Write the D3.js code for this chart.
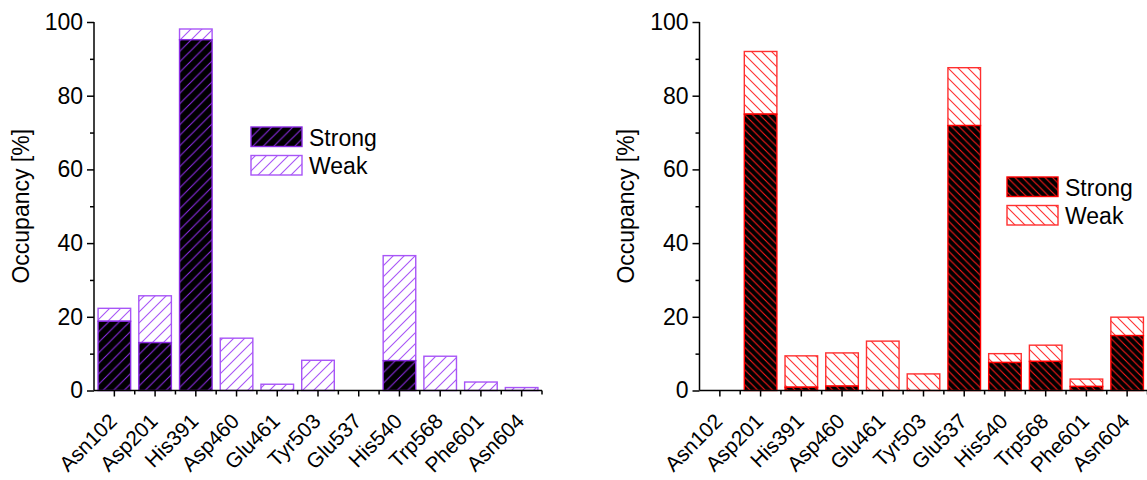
<!DOCTYPE html>
<html><head><meta charset="utf-8">
<script src="https://cdn.jsdelivr.net/npm/d3@7"></script>
<style>body{margin:0;background:#fff}svg{display:block}text{font-family:Arial,"Liberation Sans",sans-serif;fill:#000}</style>
</head><body><svg id="c" width="1147" height="480"></svg>
<script>
const residues = ["Asn102","Asp201","His391","Asp460","Glu461","Tyr503","Glu537","His540","Trp568","Phe601","Asn604"];
const strongLeft = [18.8, 13.0, 95.2, 0, 0, 0, 0, 8.1, 0, 0, 0];
const weakLeft   = [3.5, 12.7, 2.9, 14.2, 1.7, 8.2, 0, 28.5, 9.3, 2.3, 0.8];
const strongRight = [0, 75.0, 0.9, 1.2, 0, 0, 71.9, 7.6, 7.9, 1.1, 14.9];
const weakRight   = [0, 17.0, 8.5, 9.0, 13.4, 4.5, 15.7, 2.4, 4.4, 2.0, 5.0];
const yTicks = [0, 20, 40, 60, 80, 100];
const yMinorTicks = [10, 30, 50, 70, 90];
const seriesNames = ["Strong", "Weak"];

const svg = d3.select("#c");
const defs = svg.append("defs");
function hatch(id, bg, color, size, dir, w) {
  const p = defs.append("pattern").attr("id", id).attr("patternUnits", "userSpaceOnUse")
    .attr("width", size).attr("height", size);
  p.append("rect").attr("width", size).attr("height", size).attr("fill", bg);
  const s = size;
  const d = dir === "/" ? `M0,${s} L${s},0 M${-s/2},${s/2} L${s/2},${-s/2} M${s/2},${s*1.5} L${s*1.5},${s/2}`
                        : `M0,0 L${s},${s} M${-s/2},${s/2} L${s/2},${s*1.5} M${s/2},${-s/2} L${s*1.5},${s/2}`;
  p.append("path").attr("d", d).attr("stroke", color).attr("stroke-width", w).attr("fill", "none");
}
hatch("pStrongL", "#000", "#8a2be2", 10.5, "/", 1.1);
hatch("pWeakL", "#fff", "#a855f7", 11, "/", 1.1);
hatch("pStrongR", "#000", "#ff1a1a", 7.5, "\\", 1.1);
hatch("pWeakR", "#fff", "#ff3030", 10, "\\", 1.1);

const y = d3.scaleLinear().domain([0, 100]).range([390.5, 22]);

function panel(x0, strong, weak, cols, legend) {
  const xb = d3.scaleBand().domain(residues).range([x0, x0 + 448]);
  const g = svg.append("g");
  // bars
  residues.forEach((r, i) => {
    const bx = xb(r) + xb.bandwidth() * 0.1, bw = xb.bandwidth() * 0.8;
    if (weak[i] > 0) {
      g.append("rect").attr("x", bx).attr("y", y(strong[i] + weak[i])).attr("width", bw)
        .attr("height", y(strong[i]) - y(strong[i] + weak[i]))
        .attr("fill", `url(#${cols.weakP})`).attr("stroke", cols.weakS).attr("stroke-width", 1.4);
    }
    if (strong[i] > 0) {
      g.append("rect").attr("x", bx).attr("y", y(strong[i])).attr("width", bw)
        .attr("height", y(0) - y(strong[i]))
        .attr("fill", `url(#${cols.strongP})`).attr("stroke", cols.strongS).attr("stroke-width", 1.4);
    }
  });
  // y axis
  const ya = g.append("g").attr("transform", `translate(${x0},0)`)
    .call(d3.axisLeft(y).tickValues(yTicks).tickSize(7).tickPadding(4));
  ya.select(".domain").attr("stroke", "#000").attr("stroke-width", 1.5).attr("d", `M0,${y(0)}V${y(100)}`);
  ya.selectAll(".tick line").attr("stroke", "#000").attr("stroke-width", 1.5);
  ya.selectAll(".tick text").style("font-size", "23px").style("font-family", "Arial, 'Liberation Sans'");
  g.append("g").attr("transform", `translate(${x0},0)`)
    .call(d3.axisLeft(y).tickValues(yMinorTicks).tickSize(4).tickFormat(""))
    .call(a => { a.select(".domain").remove(); a.selectAll("line").attr("stroke", "#000").attr("stroke-width", 1.5); });
  // x axis
  const xa = g.append("g").attr("transform", `translate(0,${y(0)})`)
    .call(d3.axisBottom(xb).tickSize(6).tickFormat(""));
  xa.select(".domain").attr("stroke", "#000").attr("stroke-width", 1.5).attr("d", `M${x0},0H${x0 + 448}`);
  xa.selectAll(".tick line").attr("stroke", "#000").attr("stroke-width", 1.5);
  // minor ticks at band boundaries
  xa.selectAll(".minor").data(residues.slice(1).concat(["__end"])).enter().append("line")
    .attr("x1", d => d === "__end" ? x0 + 448 : xb(d)).attr("x2", d => d === "__end" ? x0 + 448 : xb(d))
    .attr("y1", 0).attr("y2", 4).attr("stroke", "#000").attr("stroke-width", 1.5);
  // labels
  g.selectAll(".xl").data(residues).enter().append("text")
    .attr("transform", d => `translate(${xb(d) + xb.bandwidth() / 2 + 4},${y(0) + 32}) rotate(-45)`)
    .attr("text-anchor", "end").style("font-size", "21px").text(d => d);
  // y title
  g.append("text").attr("transform", `translate(${x0 - 65.5},${(y(0) + y(100)) / 2}) rotate(-90)`)
    .attr("text-anchor", "middle").style("font-size", "23px").text("Occupancy [%]");
  // legend
  const lg = g.append("g").attr("transform", `translate(${legend.x},${legend.y})`);
  [[cols.strongP, cols.strongS], [cols.weakP, cols.weakS]].forEach((c, i) => {
    lg.append("rect").attr("x", 0).attr("y", i * 28.5).attr("width", 51).attr("height", 19.5)
      .attr("fill", `url(#${c[0]})`).attr("stroke", c[1]).attr("stroke-width", 1.4);
    lg.append("text").attr("x", 58).attr("y", i * 28.5 + 18.5).style("font-size", "23px").text(seriesNames[i]);
  });
}

panel(94, strongLeft, weakLeft,
  { strongP: "pStrongL", weakP: "pWeakL", strongS: "#8a2be2", weakS: "#a855f7" }, { x: 251, y: 127 });
panel(699.5, strongRight, weakRight,
  { strongP: "pStrongR", weakP: "pWeakR", strongS: "#ff0000", weakS: "#ff3030" }, { x: 1007, y: 177 });
</script></body></html>
